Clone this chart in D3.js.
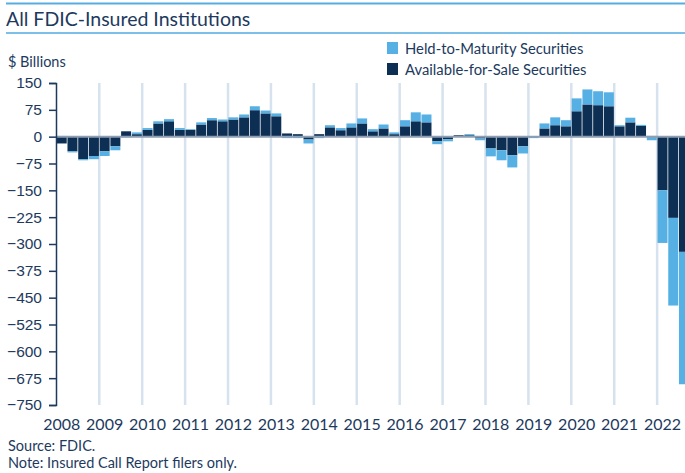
<!DOCTYPE html>
<html>
<head>
<meta charset="utf-8">
<script src="https://cdn.jsdelivr.net/npm/d3@7"></script>
<style>
  body { margin: 0; background: #fff; }
  svg { display: block; font-family: Lato, "Open Sans", sans-serif; }
  .axis path, .axis line { stroke: #1d3a5e; stroke-width: 1.5; }
  .axis text { fill: #1d3a5e; font-size: 15.5px; }
</style>
</head>
<body>
<svg id="chart"></svg>
<script>
// quarterly values, 2008Q1 .. 2022Q3 ($ billions)
var years = [2008, 2009, 2010, 2011, 2012, 2013, 2014, 2015, 2016, 2017, 2018, 2019, 2020, 2021, 2022];
var afs = [
  -19, -41, -63, -54,
  -41, -27, 15, 7,
  19, 37, 43, 19,
  19, 34, 46, 43,
  48, 54, 74, 65,
  57, 9, 7, -8,
  7, 26, 18, 26,
  37, 15, 23, 7,
  29, 43, 40, -13,
  -7, 4, 4, -5,
  -33, -38, -52, -27,
  0, 23, 32, 29,
  71, 90, 88, 85,
  29, 40, 30, 2,
  -150, -227, -322
];
var htm = [
  2, -3, -3, -9,
  -13, -11, -2, 5,
  5, 6, 6, 5,
  2, 6, 6, 5,
  6, 8, 11, 8,
  8, -4, -4, -11,
  -4, 6, 6, 11,
  14, 6, 11, 5,
  17, 25, 22, -8,
  -6, 0, 3, -5,
  -22, -28, -34, -20,
  -4, 14, 22, 17,
  36, 42, 39, 39,
  3, 13, 3, -10,
  -147, -245, -370
];
var yTicks = [150, 75, 0, -75, -150, -225, -300, -375, -450, -525, -600, -675, -750];
var seriesNames = ["Held-to-Maturity Securities", "Available-for-Sale Securities"];

var width = 685, height = 473;
var dark = "#0e2f54", light = "#56b0e3", ink = "#1d3a5e";

var svg = d3.select("#chart").attr("width", width).attr("height", height);

var rows = afs.map(function (v, i) {
  return { q: i, year: years[Math.floor(i / 4)], afs: v, htm: htm[i] };
});

var x = d3.scaleBand()
  .domain(rows.map(function (d) { return d.q; }))
  .range([56, 689.7])
  .padding(0.07);

var y = d3.scaleLinear().domain([-750, 150]).range([405, 83]);

// header rules and title
svg.append("rect").attr("x", 6).attr("y", 2.5).attr("width", width - 6).attr("height", 2).attr("fill", "#57ade0");
svg.append("rect").attr("x", 6).attr("y", 32).attr("width", width - 6).attr("height", 2).attr("fill", "#7cc0ea");
svg.append("text").attr("x", 6).attr("y", 26)
  .attr("fill", ink).style("font-size", "19.5px")
  .text("All FDIC-Insured Institutions");

svg.append("text").attr("x", 8).attr("y", 67)
  .attr("fill", ink).style("font-size", "14.5px")
  .text("$ Billions");

// year gridlines at year boundaries
var gap = x.step() * x.paddingInner() / 2;
svg.append("g").selectAll("line")
  .data(years.slice(1))
  .enter().append("line")
  .attr("x1", function (yr) { return x((yr - 2008) * 4) - gap; })
  .attr("x2", function (yr) { return x((yr - 2008) * 4) - gap; })
  .attr("y1", y(150)).attr("y2", y(-750))
  .attr("stroke", "#d6e2ed").attr("stroke-width", 2.5);

// stacked bars
var stack = d3.stack().keys(["afs", "htm"]).offset(d3.stackOffsetDiverging);
var layers = stack(rows);
var fills = { afs: dark, htm: light };

svg.append("g").selectAll("g")
  .data(layers)
  .enter().append("g")
  .attr("fill", function (s) { return fills[s.key]; })
  .selectAll("rect")
  .data(function (s) { return s; })
  .enter().append("rect")
  .attr("x", function (d) { return x(d.data.q); })
  .attr("width", x.bandwidth())
  .attr("y", function (d) { return y(Math.max(d[0], d[1])); })
  .attr("height", function (d) { return Math.abs(y(d[0]) - y(d[1])); });

// zero line
svg.append("line")
  .attr("x1", 56).attr("x2", width)
  .attr("y1", y(0)).attr("y2", y(0))
  .attr("stroke", "#8e9eb2").attr("stroke-width", 2);

// y axis
var yAxis = svg.append("g").attr("class", "axis")
  .attr("transform", "translate(56,0)")
  .call(d3.axisLeft(y).tickValues(yTicks).tickSize(7).tickPadding(7).tickSizeOuter(7));

// year labels centred on each Q1 bar
svg.append("g").selectAll("text")
  .data(years)
  .enter().append("text")
  .attr("x", function (yr) { return x((yr - 2008) * 4) + x.bandwidth() / 2; })
  .attr("y", 430)
  .attr("text-anchor", "middle")
  .attr("fill", ink).style("font-size", "16px")
  .text(function (yr) { return yr; });

// legend
var legend = svg.append("g").attr("transform", "translate(387,42)");
legend.selectAll("g")
  .data(seriesNames)
  .enter().append("g")
  .attr("transform", function (d, i) { return "translate(0," + i * 21 + ")"; })
  .each(function (d, i) {
    var g = d3.select(this);
    g.append("rect").attr("width", 11).attr("height", 12).attr("fill", i === 0 ? light : dark);
    g.append("text").attr("x", 18).attr("y", 11.5)
      .attr("fill", ink).style("font-size", "14.8px").text(d);
  });

// notes
svg.append("text").attr("x", 8).attr("y", 451).attr("fill", ink).style("font-size", "14.5px").text("Source: FDIC.");
svg.append("text").attr("x", 8).attr("y", 468).attr("fill", ink).style("font-size", "14.5px").text("Note: Insured Call Report filers only.");
</script>
</body>
</html>
